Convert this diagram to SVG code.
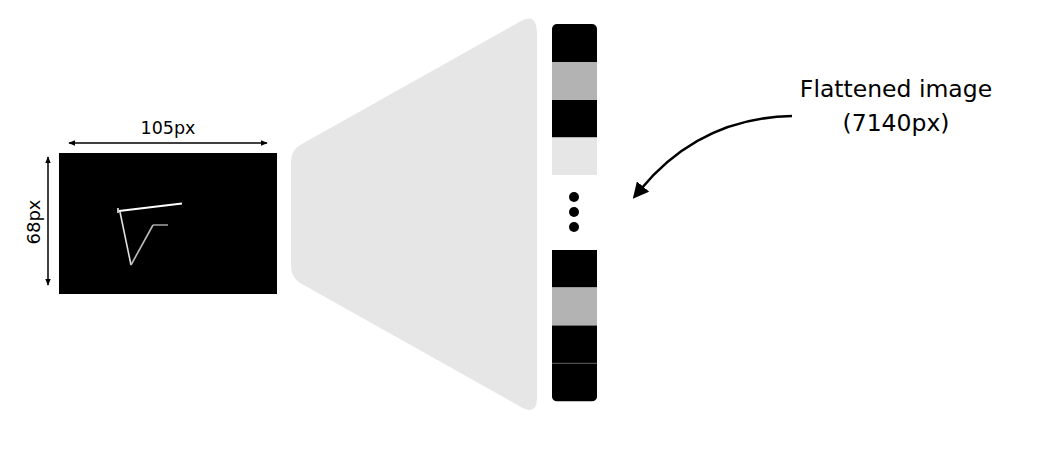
<svg xmlns="http://www.w3.org/2000/svg" width="1055" height="476" viewBox="0 0 1055 476">
<style>
  .lbl { font-family: "DejaVu Sans", "Liberation Sans", sans-serif; fill: #000; }
  .dim { stroke: #000; stroke-width: 1.5; fill: none; }
</style>
<defs>
  <marker id="dimHead" viewBox="0 0 10 10" refX="9" refY="5" markerWidth="7" markerHeight="7" orient="auto-start-reverse" markerUnits="userSpaceOnUse">
    <path d="M0,1 L10,5 L0,9 Z" fill="#000"/>
  </marker>
  <marker id="bigHead" viewBox="0 0 10 10" refX="2" refY="5" markerWidth="16" markerHeight="16" orient="auto" markerUnits="userSpaceOnUse">
    <path d="M0,0 L10,5 L0,10 Z" fill="#000"/>
  </marker>
  <clipPath id="colClip">
    <rect x="552" y="24" width="45" height="377.5" rx="5" ry="5"/>
  </clipPath>
</defs>
<rect width="1055" height="476" fill="#fff"/>

<g id="input-image">
  <rect x="59" y="153" width="218" height="141" fill="#000"/>
  <line x1="118" y1="208" x2="118" y2="213" stroke="#fff" stroke-width="1.5"/>
  <line x1="119" y1="211" x2="182" y2="203.5" stroke="#fff" stroke-width="2"/>
  <line x1="120" y1="212" x2="131" y2="265" stroke="#e0e0e0" stroke-width="1.6"/>
  <line x1="131" y1="265" x2="153" y2="225" stroke="#bdbdbd" stroke-width="1.6"/>
  <line x1="153" y1="225" x2="168" y2="225" stroke="#9a9a9a" stroke-width="1.6"/>
</g>

<g id="width-dimension">
  <line class="dim" x1="69" y1="143" x2="267" y2="143" marker-start="url(#dimHead)" marker-end="url(#dimHead)"/>
  <text class="lbl" x="168" y="134" font-size="17.5" text-anchor="middle">105px</text>
</g>

<g id="height-dimension">
  <line class="dim" x1="48" y1="157" x2="48" y2="285" marker-start="url(#dimHead)" marker-end="url(#dimHead)"/>
  <text class="lbl" transform="translate(40,222) rotate(-90)" font-size="18" text-anchor="middle">68px</text>
</g>

<g id="flatten-funnel">
  <path d="M291,162 L291,266 Q291,278 301,283.5 L521,407 Q537,416 537,398 L537,34 Q537,12 521,21 L301,144.5 Q291,150 291,162 Z" fill="#e6e6e6"/>
</g>

<g id="flattened-vector">
  <g clip-path="url(#colClip)">
    <rect x="552" y="24" width="45" height="38" fill="#000"/>
    <rect x="552" y="62" width="45" height="38" fill="#b3b3b3"/>
    <rect x="552" y="100" width="45" height="37.5" fill="#000"/>
    <rect x="552" y="137.5" width="45" height="37.5" fill="#e6e6e6"/>
    <rect x="552" y="250" width="45" height="37.5" fill="#000"/>
    <rect x="552" y="287.5" width="45" height="38" fill="#b3b3b3"/>
    <rect x="552" y="325.5" width="45" height="38" fill="#000"/>
    <rect x="552" y="363.5" width="45" height="38" fill="#000"/>
    <line x1="552" y1="363.3" x2="597" y2="363.3" stroke="#555" stroke-width="1"/>
  </g>
  <circle cx="574" cy="197" r="5" fill="#000"/>
  <circle cx="574" cy="212" r="5" fill="#000"/>
  <circle cx="574" cy="227" r="5" fill="#000"/>
</g>

<g id="connectors">
  <path d="M792,116 Q700,118 641,189" fill="none" stroke="#000" stroke-width="2.5" marker-end="url(#bigHead)"/>
</g>

<g id="flattened-label">
  <text class="lbl" x="896" y="97" font-size="23.5" text-anchor="middle">Flattened image</text>
  <text class="lbl" x="896" y="131" font-size="23.5" text-anchor="middle">(7140px)</text>
</g>
</svg>
